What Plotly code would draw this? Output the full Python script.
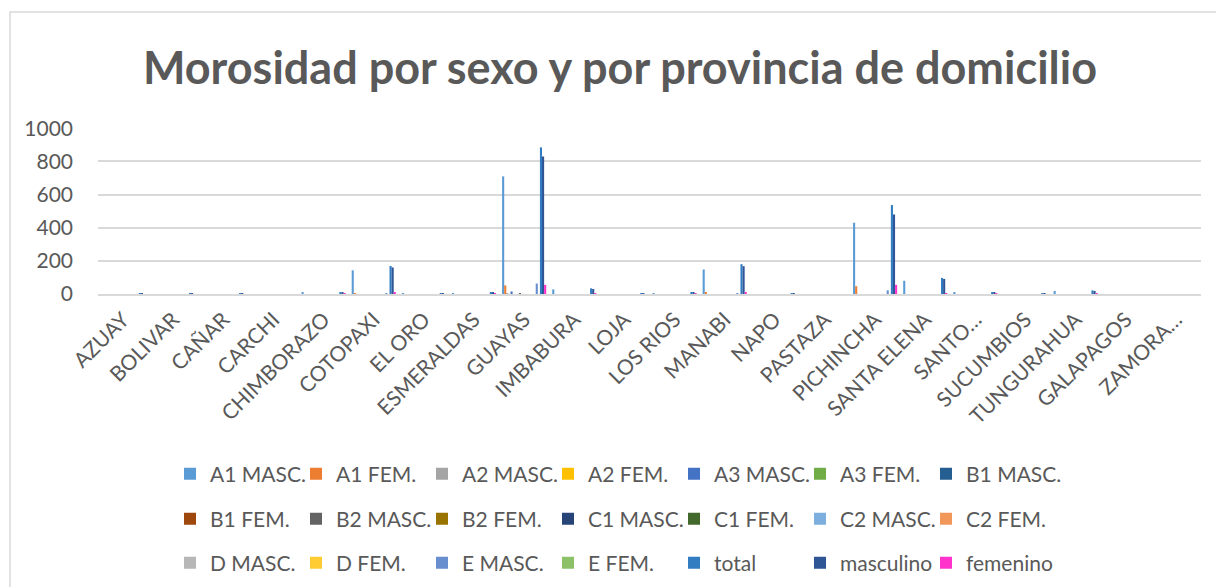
import plotly.graph_objects as go

# provincias (eje x)
provincias = ["AZUAY", "BOLIVAR", "CAÑAR", "CARCHI", "CHIMBORAZO", "COTOPAXI", "EL ORO",
              "ESMERALDAS", "GUAYAS", "IMBABURA", "LOJA", "LOS RIOS", "MANABI", "NAPO",
              "PASTAZA", "PICHINCHA", "SANTA ELENA", "SANTO…", "SUCUMBIOS", "TUNGURAHUA",
              "GALAPAGOS", "ZAMORA…"]

# valores, una lista por serie
a1_masc = [0, 0, 0, 0, 8, 143, 2, 5, 710, 28, 0, 3, 148, 0, 0, 430, 80, 10, 0, 18, 0, 0]
a1_fem = [0, 0, 0, 0, 0, 5, 0, 0, 52, 0, 0, 0, 8, 0, 0, 47, 0, 0, 0, 0, 0, 0]
a2_masc = [0, 0, 0, 0, 0, 0, 0, 0, 4, 0, 0, 0, 0, 0, 0, 0, 0, 0, 0, 0, 0, 0]
a2_fem = [0] * 22
a3_masc = [0, 0, 0, 0, 0, 0, 0, 0, 15, 0, 0, 0, 0, 0, 0, 0, 0, 0, 0, 0, 0, 0]
a3_fem = [0] * 22
b1_masc = [0] * 22
b1_fem = [0] * 22
b2_masc = [0, 0, 0, 0, 0, 0, 0, 0, 3, 0, 0, 0, 0, 0, 0, 0, 0, 0, 0, 0, 0, 0]
b2_fem = [0] * 22
c1_masc = [0] * 22
c1_fem = [0] * 22
c2_masc = [0] * 22
c2_fem = [0] * 22
d_masc = [0] * 22
d_fem = [0] * 22
e_masc = [0, 0, 0, 0, 0, 3, 0, 0, 63, 0, 0, 0, 3, 0, 0, 22, 0, 0, 0, 0, 0, 0]
e_fem = [0] * 22
total = [1, 1, 1, 0, 10, 169, 3, 10, 885, 34, 1, 10, 180, 2, 0, 537, 97, 12, 3, 22, 0, 0]
masculino = [1, 1, 1, 0, 9, 160, 3, 9, 830, 30, 1, 9, 168, 2, 0, 480, 91, 11, 3, 18, 0, 0]
femenino = [0, 0, 0, 0, 1, 10, 0, 1, 55, 4, 0, 1, 12, 0, 0, 55, 6, 1, 0, 4, 0, 0]

series = [
    ("A1 MASC.", a1_masc, "#5B9BD5"), ("A1 FEM.", a1_fem, "#ED7D31"),
    ("A2 MASC.", a2_masc, "#A5A5A5"), ("A2 FEM.", a2_fem, "#FFC000"),
    ("A3 MASC.", a3_masc, "#4472C4"), ("A3 FEM.", a3_fem, "#70AD47"),
    ("B1 MASC.", b1_masc, "#255E91"), ("B1 FEM.", b1_fem, "#9E480E"),
    ("B2 MASC.", b2_masc, "#636363"), ("B2 FEM.", b2_fem, "#997300"),
    ("C1 MASC.", c1_masc, "#264478"), ("C1 FEM.", c1_fem, "#43682B"),
    ("C2 MASC.", c2_masc, "#7CAFDD"), ("C2 FEM.", c2_fem, "#F1975A"),
    ("D MASC.", d_masc, "#B7B7B7"), ("D FEM.", d_fem, "#FFCD33"),
    ("E MASC.", e_masc, "#698ED0"), ("E FEM.", e_fem, "#8CC168"),
    ("total", total, "#327DC2"), ("masculino", masculino, "#2F5597"),
    ("femenino", femenino, "#FF33CC"),
]

W, H = 1216, 587
L, R, T, B = 98, 1201, 128, 294   # plot area in pixels
FONT = "Lato"
GREY = "#595959"
LEGENDS = ["legend", "legend2", "legend3"]


def px_x(p):
    return (p - L) / (R - L)


def px_y(p):
    return (B - p) / (B - T)


fig = go.Figure()
for i, (name, vals, col) in enumerate(series):
    fig.add_trace(go.Bar(
        name=name, x=provincias, y=vals, marker_color=col, marker_line_width=0,
        legend=LEGENDS[i // 7],
    ))

# entrada vacia al final de cada fila para que no se recorte el ultimo texto
for lg in LEGENDS:
    fig.add_trace(go.Scatter(x=[None], y=[None], mode="markers", name=" ",
                             marker=dict(color="rgba(0,0,0,0)"), legend=lg,
                             hoverinfo="skip"))

leg_rows = [474, 519, 563]
legs = {}
for k, yy in enumerate(leg_rows):
    legs[LEGENDS[k]] = dict(
        orientation="h", x=px_x(170), xanchor="left", y=px_y(yy), yanchor="middle",
        font=dict(family=FONT, size=21, color=GREY), entrywidth=81,
        bgcolor="rgba(0,0,0,0)", traceorder="normal",
    )

fig.update_layout(
    width=W, height=H,
    margin=dict(l=L, r=W - R, t=T, b=H - B, autoexpand=False),
    paper_bgcolor="white", plot_bgcolor="white",
    barmode="group", bargap=0.12, bargroupgap=0,
    title=dict(text="<b>Morosidad por sexo y por provincia de domicilio</b>",
               x=620 / W, xref="container", xanchor="center",
               y=1 - 68 / H, yref="container", yanchor="middle",
               font=dict(family=FONT, size=45, color=GREY)),
    font=dict(family=FONT, color=GREY),
    showlegend=True,
    **legs,
)

fig.update_yaxes(range=[0, 1002], dtick=200, showgrid=True, gridcolor="#D9D9D9", gridwidth=1.5,
                 zeroline=False, showline=False, ticks="", ticklabelstandoff=24,
                 automargin=False, tickfont=dict(family=FONT, size=21, color=GREY))
fig.update_xaxes(showline=True, linecolor="#D9D9D9", linewidth=2, tickangle=-45, ticks="",
                 ticklabelstandoff=3, automargin=False,
                 tickfont=dict(family=FONT, size=21, color=GREY))

# marco del grafico
fig.add_shape(type="rect", xref="paper", yref="paper",
              x0=px_x(10), x1=px_x(1240), y0=px_y(610), y1=px_y(12),
              line=dict(color="#D9D9D9", width=1.5), layer="below")

fig.write_html("out.html", config={"displayModeBar": False},
               post_script="document.body.style.margin='0';")
